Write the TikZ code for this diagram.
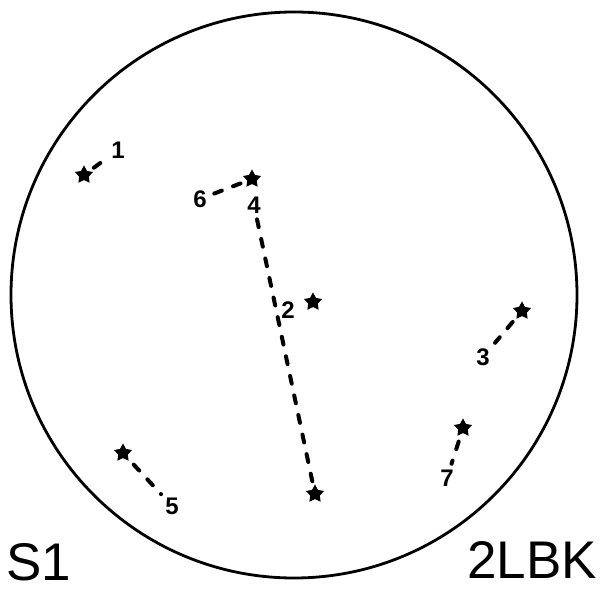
\documentclass[tikz,border=0pt]{standalone}
\usepackage{fontspec}
\setmainfont{Liberation Sans}
\usetikzlibrary{shapes.geometric}
\begin{document}
\begin{tikzpicture}[x=1pt,y=-1pt,
  pt/.style={star,star points=5,star point ratio=1.9,fill=black,draw=black,line width=1pt,inner sep=0pt,minimum size=17pt},
  lab/.style={font=\fontsize{24}{24}\selectfont\bfseries,inner sep=0pt},
  big/.style={font=\fontsize{53}{53}\selectfont,inner sep=0pt},
  dl/.style={line width=4pt,dash pattern=on 8pt off 12pt,line cap=round}]
\useasboundingbox (0,0) rectangle (611,593);
\node[circle,draw,line width=2.8pt,minimum size=566pt,inner sep=0pt] (c) at (294,295) {};
\node[pt] (s1) at (84,175) {};
\node[lab] (l1) at (118,150) {1};
\node[pt] (s4) at (252,179) {};
\node[lab] (l6) at (200,199) {6};
\node[lab] (l4) at (254,205) {4};
\node[pt] (s2) at (313,302) {};
\node[lab] (l2) at (288,310) {2};
\node[pt] (s3) at (522,311) {};
\node[lab] (l3) at (483,357) {3};
\node[pt] (s7) at (463,428) {};
\node[lab] (l7) at (447,478) {7};
\node[pt] (s5) at (123,453) {};
\node[lab] (l5) at (172,506) {5};
\node[pt] (sb) at (315,494) {};
\node[big] (t1) at (39,562) {S1};
\node[big] (t2) at (532,560) {2LBK};
\draw[dl,shorten <=6pt,shorten >=6pt] (s1) -- (l1);
\draw[dl,shorten <=8pt,shorten >=4pt] (l6) -- (s4);
\draw[dl,shorten <=6pt,shorten >=6pt] (l4) -- (sb);
\draw[dl,shorten <=6pt,shorten >=8pt] (s3) -- (l3);
\draw[dl,shorten <=8pt,shorten >=6pt] (s7) -- (l7);
\draw[dl,shorten <=8pt,shorten >=6pt] (s5) -- (l5);
\end{tikzpicture}
\end{document}
